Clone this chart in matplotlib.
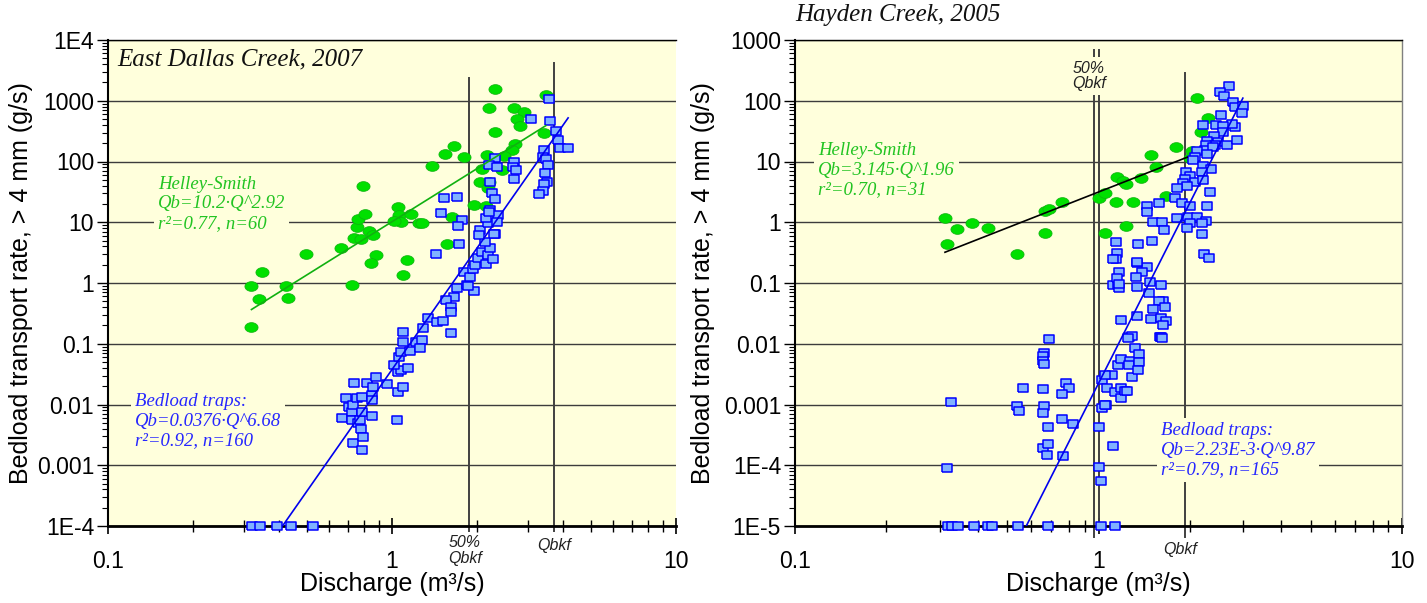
import matplotlib
matplotlib.use('Agg')
import matplotlib.pyplot as plt
import numpy as np
from matplotlib.ticker import FixedLocator, FixedFormatter, LogLocator, NullFormatter

plt.rcParams['font.family'] = ['Liberation Sans', 'DejaVu Sans']

# ---- East Dallas Creek, 2007 ----
# Helley-Smith samples: discharge (m3/s), bedload rate (g/s)
edc_hs_q = [0.319, 0.319, 0.340, 0.348, 0.424, 0.431, 0.498, 0.660, 0.723, 0.735,
            0.778, 0.830, 0.857, 0.753, 0.759, 0.803, 0.879, 0.844, 1.13, 1.09,
            0.791, 1.05, 1.06, 1.08, 1.02, 1.17, 1.24, 1.28, 1.38, 1.54,
            1.63, 1.56, 2.31, 3.48, 2.20, 2.69, 2.92, 2.76, 2.82, 2.31,
            3.43, 2.71, 2.65, 2.48, 1.65, 1.79, 2.16, 2.08, 2.44, 2.04,
            2.20, 2.18, 1.95, 2.14]
edc_hs_qb = [0.189, 0.893, 0.546, 1.52, 0.893, 0.566, 3.0, 3.77, 0.93, 5.5,
             5.3, 7.2, 6.2, 8.4, 11.3, 13.7, 2.9, 2.13, 2.4, 1.36,
             39.5, 17.8, 13.2, 10.1, 10.5, 13.7, 9.7, 9.7, 84, 133,
             12.2, 4.4, 1560, 1240, 760, 760, 653, 501, 384, 306,
             295, 194, 155, 123, 180, 119, 128, 75, 72, 46,
             46, 36.6, 19.2, 18.5]
# bedload traps
edc_bt_q = [0.321, 0.343, 0.394, 0.441, 0.527, 0.667, 0.689, 0.706, 0.723, 0.723,
            0.729, 0.729, 0.735, 0.753, 0.759, 0.771, 0.778, 0.784, 0.784, 0.784,
            0.791, 0.817, 0.851, 0.851, 0.851, 0.857, 0.879, 1.041, 0.960, 1.05,
            1.09, 1.05, 1.08, 1.14, 1.016, 1.06, 1.08, 1.16, 1.09, 1.21,
            1.28, 1.25, 1.09, 1.29, 1.34, 1.44, 1.51, 1.61, 1.65, 1.55,
            1.61, 1.61, 1.69, 1.79, 1.84, 1.94, 1.85, 1.88, 1.93, 1.96,
            2.01, 2.08, 2.14, 2.18, 2.27, 2.21, 2.13, 2.31, 2.04, 2.02,
            2.18, 2.14, 2.21, 2.36, 1.49, 1.76, 1.71, 1.72, 1.43, 1.52,
            1.69, 2.20, 2.34, 2.29, 2.21, 2.25, 2.31, 2.31, 2.20, 2.34,
            2.69, 2.67, 2.73, 2.69, 3.57, 3.09, 3.60, 3.78, 3.84, 3.91,
            4.17, 3.43, 3.40, 3.48, 3.54, 3.46, 3.51, 3.43, 3.40, 3.29]
edc_bt_qb = [1e-4, 1e-4, 1e-4, 1e-4, 1e-4, 0.0060, 0.0128, 0.0091, 0.0075, 0.0056,
             0.0098, 0.0023, 0.0226, 0.0128, 0.0050, 0.0056, 0.0040, 0.0133, 0.0075, 0.0018,
             0.0029, 0.0226, 0.0143, 0.0119, 0.0065, 0.0194, 0.028, 0.0056, 0.0217, 0.0161,
             0.0194, 0.034, 0.037, 0.040, 0.045, 0.060, 0.073, 0.076, 0.107, 0.107,
             0.115, 0.085, 0.156, 0.18, 0.27, 0.23, 0.24, 0.150, 0.59, 0.52,
             0.40, 0.33, 0.83, 1.52, 0.93, 0.74, 0.89, 1.26, 1.70, 1.98,
             2.6, 3.2, 2.06, 2.9, 2.5, 3.8, 4.7, 6.4, 7.5, 6.2,
             9.7, 11.7, 16, 13.2, 14.2, 10.9, 8.7, 4.4, 3.0, 25,
             26, 14.7, 10.1, 6.4, 46, 30, 24, 114, 88, 81,
             98, 81, 72, 52, 1069, 501, 464, 318, 226, 167,
             167, 155, 119, 110, 88, 65, 46, 43, 33, 29]

# ---- Hayden Creek, 2005 ----
hc_hs_q = [0.312, 0.317, 0.342, 0.383, 0.432, 0.539, 0.667, 0.667, 0.687, 0.758,
           1.00, 2.11, 2.30, 2.18, 1.80, 1.49, 2.03, 1.55, 2.00, 1.15,
           1.20, 1.23, 1.38, 1.05, 1.14, 1.30, 1.67, 1.05, 1.23]
hc_hs_qb = [1.17, 0.44, 0.77, 0.97, 0.80, 0.30, 0.67, 1.53, 1.65, 2.15,
            2.51, 111, 52, 30.6, 17.3, 12.8, 14.9, 8.1, 11.4, 5.6,
            4.8, 4.3, 5.3, 3.0, 2.15, 2.15, 2.7, 0.67, 0.87]
hc_bt_q = [0.319, 0.329, 0.344, 0.389, 0.432, 0.446, 0.543, 0.682, 1.02, 1.13,
           0.327, 0.317, 0.687, 0.661, 0.656, 0.656, 0.661, 0.564, 0.656, 0.782,
           0.800, 0.758, 0.539, 0.547, 0.661, 0.656, 0.682, 0.758, 0.824, 0.656,
           0.682, 0.676, 0.764, 1.00, 1.00, 1.02, 1.12, 1.03, 1.06, 1.03,
           1.07, 1.11, 1.13, 1.19, 1.19, 1.22, 1.16, 1.19, 1.27, 1.26,
           1.29, 1.26, 1.29, 1.32, 1.34, 1.19, 1.12, 1.16, 1.17, 1.59,
           1.36, 1.36, 1.35, 1.05, 1.24, 1.05,
           1.14, 1.35, 1.50, 2.19, 2.23, 2.31, 1.15, 1.14, 1.12, 1.34,
           1.44, 1.39, 1.33, 1.17, 1.15, 1.17, 1.34, 1.48, 1.61, 1.47,
           1.63, 1.58, 1.66, 1.51, 1.49, 1.61, 1.67, 1.63, 1.25, 1.61, 1.62,
           2.69, 2.51, 2.59, 2.77, 2.82, 2.99, 2.97, 2.53, 2.82, 2.75,
           2.21, 2.44, 2.57, 2.57, 2.40, 2.28, 2.48, 2.65, 2.86, 2.42,
           2.26, 2.24, 2.38, 2.11, 2.28, 2.08, 2.05, 2.21, 2.35, 2.19,
           1.94, 2.00, 1.93, 2.08, 2.21, 1.90, 1.96, 1.81, 2.33, 1.79,
           1.88, 2.00, 2.28, 1.58, 1.44, 1.44, 1.81, 1.97, 2.11, 2.26,
           1.51, 1.62, 2.00, 1.64, 1.96, 2.19, 1.34]
hc_bt_qb = [1e-5, 1e-5, 1e-5, 1e-5, 1e-5, 1e-5, 1e-5, 1e-5, 1e-5, 1e-5,
            0.0011, 0.000090, 0.0120, 0.0070, 0.0063, 0.0052, 0.0046, 0.0019, 0.0018, 0.0023,
            0.0019, 0.0015, 0.00094, 0.00078, 0.00094, 0.00072, 0.00043, 0.00058, 0.00048, 0.00019,
            0.00022, 0.00015, 0.00014, 0.00043, 0.000094, 0.000055, 0.00021, 0.00087, 0.00098, 0.0025,
            0.0019, 0.0031, 0.0016, 0.0013, 0.0019, 0.0017, 0.0045, 0.0056, 0.0052, 0.0045,
            0.0028, 0.0129, 0.0134, 0.0085, 0.029, 0.025, 0.093, 0.093, 0.083, 0.0129,
            0.0068, 0.0050, 0.0037, 0.0031, 0.0017, 0.0010,
            0.47, 0.44, 0.49, 0.64, 0.30, 0.26, 0.31, 0.25, 0.25, 0.21,
            0.18, 0.152, 0.126, 0.152, 0.121, 0.096, 0.086, 0.104, 0.093, 0.069,
            0.051, 0.051, 0.040, 0.037, 0.026, 0.027, 0.024, 0.020, 0.0124, 0.0129, 0.0124,
            175, 139, 120, 95, 79, 82, 63, 58, 37, 41,
            40, 40, 38, 31, 26, 21.7, 20.9, 18.7, 22.6, 18.7,
            18.7, 15.5, 17.3, 14.9, 13.3, 11.9, 10.6, 8.4, 7.5, 6.7,
            6.7, 5.8, 5.2, 4.6, 5.0, 4.4, 3.95, 3.66, 3.15, 2.51,
            2.07, 1.85, 1.85, 2.07, 1.85, 1.48, 1.17, 1.22, 1.22, 1.05,
            1.01, 1.01, 0.97, 0.74, 0.80, 0.97, 0.22]

# fitted power laws (coef, exponent, Q range of line)
edc_hs_fit = (10.2, 2.92, 0.32, 3.48)
edc_bt_fit = (0.0376, 6.68, 0.406, 4.17)
hc_hs_fit = (3.145, 1.96, 0.312, 1.96)
hc_bt_fit = (2.23e-3, 9.87, 0.577, 2.99)

# bankfull discharge markers
edc_qbkf = 3.72
hc_qbkf = 1.93

x_ticks = [0.1, 1, 10]
x_labels = ['0.1', '1', '10']
edc_yticks = [1e-4, 1e-3, 1e-2, 0.1, 1, 10, 100, 1000, 1e4]
edc_ylabels = ['1E-4', '0.001', '0.01', '0.1', '1', '10', '100', '1000', '1E4']
hc_yticks = [1e-5, 1e-4, 1e-3, 1e-2, 0.1, 1, 10, 100, 1000]
hc_ylabels = ['1E-5', '1E-4', '0.001', '0.01', '0.1', '1', '10', '100', '1000']

BG = '#FFFFDC'
GRID = '#3c3c3c'
GREEN = '#00E000'
GREEN_EDGE = '#10B010'
GREEN_TXT = '#22C422'
BLUE_FILL = '#80B2FF'
BLUE_EDGE = '#0000FF'
BLUE_TXT = '#2626FF'

t = np.linspace(0, 2 * np.pi, 40)
ellipse = list(zip(np.cos(t), 0.74 * np.sin(t)))
rect = [(-1, -0.76), (1, -0.76), (1, 0.76), (-1, 0.76), (-1, -0.76)]

serif_it = dict(family='Liberation Serif', style='italic')
box = dict(boxstyle='square,pad=0.2', fc=BG, ec='none')


def setup(ax, ylim, yticks, ylabels):
    ax.set_xscale('log')
    ax.set_yscale('log')
    ax.set_xlim(0.1, 10)
    ax.set_ylim(*ylim)
    ax.set_facecolor(BG)
    ax.xaxis.set_major_locator(FixedLocator(x_ticks))
    ax.xaxis.set_major_formatter(FixedFormatter(x_labels))
    ax.xaxis.set_minor_locator(LogLocator(base=10, subs=np.arange(2, 10), numticks=20))
    ax.xaxis.set_minor_formatter(NullFormatter())
    ax.yaxis.set_major_locator(FixedLocator(yticks))
    ax.yaxis.set_major_formatter(FixedFormatter(ylabels))
    ax.yaxis.set_minor_locator(LogLocator(base=10, subs=np.arange(2, 10), numticks=20))
    ax.yaxis.set_minor_formatter(NullFormatter())
    ax.yaxis.grid(True, which='major', color=GRID, lw=1.0, zorder=1)
    ax.set_axisbelow(True)
    ax.tick_params(axis='y', which='major', direction='out', length=8, width=1, pad=2, labelsize=16.5)
    ax.tick_params(axis='y', which='minor', direction='out', length=4, width=0.8)
    ax.tick_params(axis='x', which='major', direction='inout', length=11, width=1.2, pad=12, labelsize=16.5)
    ax.tick_params(axis='x', which='minor', direction='inout', length=8, width=1)
    ax.spines['left'].set_linewidth(1.5)
    ax.spines['bottom'].set_linewidth(2)
    ax.spines['top'].set_linewidth(1)
    ax.set_xlabel('Discharge (m³/s)', fontsize=18)
    ax.set_ylabel('Bedload transport rate, > 4 mm (g/s)', fontsize=18)
    ax.xaxis.set_label_coords(0.5, -0.095)
    ax.yaxis.set_label_coords(-0.132, 0.5)


def fit_line(ax, fit, color):
    a, b, q0, q1 = fit
    q = np.geomspace(q0, q1, 50)
    ax.plot(q, a * q ** b, color=color, lw=1.2, zorder=5)


def points(ax, hs_q, hs_qb, bt_q, bt_qb):
    ax.plot(hs_q, hs_qb, ls='none', marker=ellipse, ms=9.5, mfc=GREEN, mec=GREEN_EDGE,
            mew=0.5, clip_on=False, zorder=3)
    ax.plot(bt_q, bt_qb, ls='none', marker=rect, ms=7.8, mfc=BLUE_FILL, mec=BLUE_EDGE,
            mew=1.1, clip_on=False, zorder=4)


fig = plt.figure(figsize=(14.27, 6.03), dpi=100)
ax1 = fig.add_axes([108 / 1427, 77 / 603, 568 / 1427, 486 / 603])
ax2 = fig.add_axes([795 / 1427, 77 / 603, 607 / 1427, 486 / 603])

# ---- left panel ----
setup(ax1, (1e-4, 1e4), edc_yticks, edc_ylabels)
ax1.spines['right'].set_visible(False)
ax1.axvline(edc_qbkf / 2, ymin=-0.01, ymax=0.922, color='#404040', lw=1.4, clip_on=False, zorder=2)
ax1.axvline(edc_qbkf, ymin=-0.01, ymax=0.953, color='#404040', lw=1.4, clip_on=False, zorder=2)
points(ax1, edc_hs_q, edc_hs_qb, edc_bt_q, edc_bt_qb)
fit_line(ax1, edc_hs_fit, '#10B010')
fit_line(ax1, edc_bt_fit, '#0000EE')
ax1.text(0.016, 0.959, 'East Dallas Creek, 2007', transform=ax1.transAxes, fontsize=18,
         va='center', ha='left', color='#111111', **serif_it)
ax1.text(0.088, 0.663, 'Helley-Smith\nQb=10.2·Q^2.92\nr²=0.77, n=60', transform=ax1.transAxes,
         fontsize=13.5, va='center', ha='left', color=GREEN_TXT, linespacing=1.2, bbox=box,
         zorder=3, **serif_it)
ax1.text(0.047, 0.216, 'Bedload traps:\nQb=0.0376·Q^6.68\nr²=0.92, n=160', transform=ax1.transAxes,
         fontsize=13.5, va='center', ha='left', color=BLUE_TXT, linespacing=1.2, bbox=box,
         zorder=3, **serif_it)
ax1.text(0.6285, -0.05, '50%\nQbkf', transform=ax1.transAxes, fontsize=11.5, style='italic',
         ha='center', va='center', multialignment='center', color='#222222', linespacing=1.05)
ax1.text(0.785, -0.04, 'Qbkf', transform=ax1.transAxes, fontsize=11.5, style='italic',
         ha='center', va='center', color='#222222')

# ---- right panel ----
setup(ax2, (1e-5, 1e3), hc_yticks, hc_ylabels)
ax2.spines['right'].set_color('#808080')
ax2.spines['right'].set_linewidth(1)
ax2.axvline(hc_qbkf / 2, ymin=-0.023, ymax=0.979, color='#404040', lw=1.4, clip_on=False, zorder=2)
ax2.axvline(1.0, ymin=0, ymax=0.979, color='#404040', lw=1.4, zorder=2)
ax2.axvline(hc_qbkf, ymin=-0.023, ymax=0.932, color='#404040', lw=1.4, clip_on=False, zorder=2)
points(ax2, hc_hs_q, hc_hs_qb, hc_bt_q, hc_bt_qb)
fit_line(ax2, hc_hs_fit, 'black')
fit_line(ax2, hc_bt_fit, '#0000EE')
ax2.text(0.0, 1.051, 'Hayden Creek, 2005', transform=ax2.transAxes, fontsize=18,
         va='center', ha='left', color='#111111', **serif_it)
ax2.text(0.038, 0.7325, 'Helley-Smith\nQb=3.145·Q^1.96\nr²=0.70, n=31', transform=ax2.transAxes,
         fontsize=13.5, va='center', ha='left', color=GREEN_TXT, linespacing=1.2, bbox=box,
         zorder=3, **serif_it)
ax2.text(0.603, 0.156, 'Bedload traps:\nQb=2.23E-3·Q^9.87\nr²=0.79, n=165', transform=ax2.transAxes,
         fontsize=13.5, va='center', ha='left', color=BLUE_TXT, linespacing=1.2, bbox=box,
         zorder=3, **serif_it)
ax2.text(0.484, 0.926, '50%\nQbkf', transform=ax2.transAxes, fontsize=11.5, style='italic',
         ha='center', va='center', multialignment='center', color='#222222', linespacing=1.05,
         bbox=dict(boxstyle='square,pad=0.25', fc=BG, ec='none'), zorder=3)
ax2.text(0.634, -0.049, 'Qbkf', transform=ax2.transAxes, fontsize=11.5, style='italic',
         ha='center', va='center', color='#222222')

fig.savefig('out.png', dpi=100, facecolor='white')
